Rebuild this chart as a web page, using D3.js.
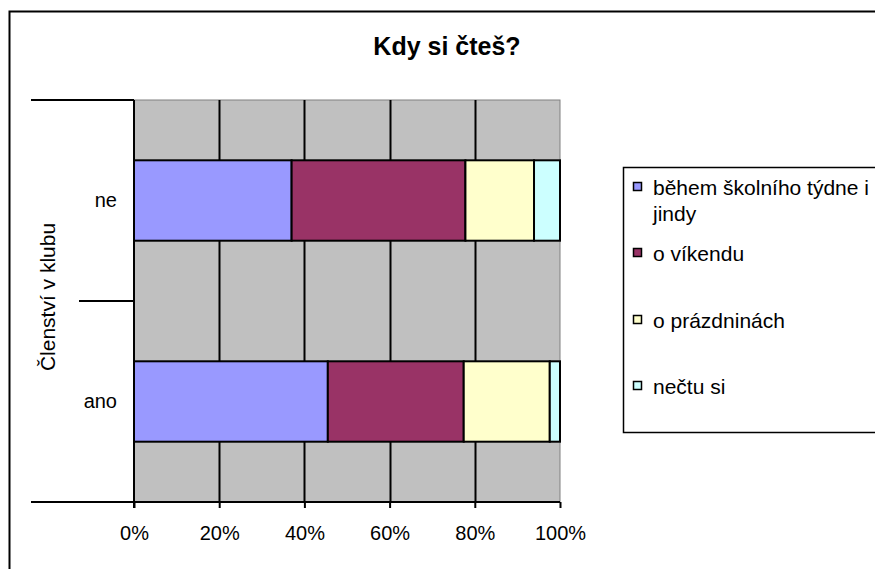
<!DOCTYPE html>
<html>
<head>
<meta charset="utf-8">
<script src="https://cdn.jsdelivr.net/npm/d3@7"></script>
<style>
  body { margin: 0; background: #fff; }
  svg text { font-family: "Liberation Sans", Arial, sans-serif; fill: #000; }
</style>
</head>
<body>
<div id="chart"></div>
<script>
// data (percent of each row)
const categories = ['ne', 'ano'];
const seriesNames = ['během školního týdne i jindy', 'o víkendu', 'o prázdninách', 'nečtu si'];
const seriesColors = ['#9999FF', '#993366', '#FFFFCC', '#CCFFFF'];
const valuesNe = [37.0, 40.8, 16.1, 6.1];
const valuesAno = [45.5, 31.9, 20.2, 2.4];
const xTicks = [0, 20, 40, 60, 80, 100];
const chartTitle = 'Kdy si čteš?';
const yTitle = 'Členství v klubu';

const width = 875, height = 569;
const plot = { left: 134, right: 560, top: 100, bottom: 502 };

const svg = d3.select('#chart').append('svg')
  .attr('width', width)
  .attr('height', height);

// outer chart frame (runs off the bottom/right edge)
svg.append('rect')
  .attr('x', 9.5).attr('y', 11.5)
  .attr('width', 900).attr('height', 600)
  .attr('fill', '#fff')
  .attr('stroke', '#000')
  .attr('stroke-width', 2);

const xScale = d3.scaleLinear().domain([0, 100]).range([plot.left, plot.right]);
const yScale = d3.scaleBand().domain(categories)
  .range([plot.top, plot.bottom])
  .paddingInner(0.6).paddingOuter(0.3);

// plot background
svg.append('rect')
  .attr('x', plot.left).attr('y', plot.top)
  .attr('width', plot.right - plot.left).attr('height', plot.bottom - plot.top)
  .attr('fill', '#C0C0C0')
  .attr('stroke', '#808080')
  .attr('stroke-width', 1);

// vertical gridlines
svg.append('g')
  .selectAll('line')
  .data(xTicks.slice(1, -1))
  .enter()
  .append('line')
  .attr('x1', d => Math.round(xScale(d)) + 0.5)
  .attr('x2', d => Math.round(xScale(d)) + 0.5)
  .attr('y1', plot.top)
  .attr('y2', plot.bottom)
  .attr('stroke', '#000')
  .attr('stroke-width', 2);

// stacked bars
const rows = categories.map((c, i) => {
  const vals = i === 0 ? valuesNe : valuesAno;
  const row = { cat: c };
  seriesNames.forEach((s, j) => { row[s] = vals[j]; });
  return row;
});
const stacked = d3.stack().keys(seriesNames)(rows);

svg.append('g')
  .selectAll('g')
  .data(stacked)
  .enter()
  .append('g')
  .attr('fill', (d, i) => seriesColors[i])
  .selectAll('rect')
  .data(d => d)
  .enter()
  .append('rect')
  .attr('x', d => xScale(d[0]))
  .attr('y', d => yScale(d.data.cat))
  .attr('width', d => xScale(d[1]) - xScale(d[0]))
  .attr('height', yScale.bandwidth())
  .attr('stroke', '#000')
  .attr('stroke-width', 2);

// value axis
const xAxis = d3.axisBottom(xScale)
  .tickValues(xTicks)
  .tickSize(6)
  .tickPadding(18)
  .tickFormat(d => d + '%');

const gx = svg.append('g')
  .attr('transform', 'translate(0,' + plot.bottom + ')')
  .call(xAxis);
gx.select('.domain').remove();
gx.selectAll('.tick line').attr('stroke', '#000').attr('stroke-width', 2);
gx.selectAll('.tick text').attr('font-size', '20px').attr('font-family', '"Liberation Sans", Arial, sans-serif');

// category axis: line, boundary ticks reaching left, labels
svg.append('line')
  .attr('x1', 31).attr('x2', plot.right)
  .attr('y1', plot.bottom).attr('y2', plot.bottom)
  .attr('stroke', '#000').attr('stroke-width', 2);

svg.append('line')
  .attr('x1', plot.left).attr('x2', plot.left)
  .attr('y1', plot.top).attr('y2', plot.bottom + 6)
  .attr('stroke', '#000').attr('stroke-width', 2);

svg.append('line')
  .attr('x1', 31).attr('x2', plot.left)
  .attr('y1', plot.top).attr('y2', plot.top)
  .attr('stroke', '#000').attr('stroke-width', 2);

// boundary between the two categories is shorter (stops before the axis title)
svg.append('line')
  .attr('x1', 79).attr('x2', plot.left)
  .attr('y1', (plot.top + plot.bottom) / 2).attr('y2', (plot.top + plot.bottom) / 2)
  .attr('stroke', '#000').attr('stroke-width', 2);

const yAxis = d3.axisLeft(yScale).tickSize(0).tickPadding(17);
const gy = svg.append('g')
  .attr('transform', 'translate(' + plot.left + ',0)')
  .call(yAxis);
gy.select('.domain').remove();
gy.selectAll('.tick text').attr('font-size', '20px').attr('font-family', '"Liberation Sans", Arial, sans-serif');

// axis title
svg.append('text')
  .attr('transform', 'translate(55,' + 297 + ') rotate(-90)')
  .attr('text-anchor', 'middle')
  .attr('font-size', '21px')
  .text(yTitle);

// chart title
svg.append('text')
  .attr('x', 447)
  .attr('y', 55)
  .attr('text-anchor', 'middle')
  .attr('font-size', '25px')
  .attr('font-weight', 'bold')
  .text(chartTitle);

// legend
const legend = svg.append('g');
legend.append('rect')
  .attr('x', 623.5).attr('y', 167.5)
  .attr('width', 300).attr('height', 265)
  .attr('fill', '#fff')
  .attr('stroke', '#000')
  .attr('stroke-width', 1.5);

const legendY = [187, 253, 320, 386];
const items = legend.selectAll('g.item')
  .data(seriesNames)
  .enter()
  .append('g')
  .attr('class', 'item')
  .attr('transform', (d, i) => 'translate(0,' + legendY[i] + ')');

items.append('rect')
  .attr('x', 633.5).attr('y', -4.5)
  .attr('width', 8).attr('height', 8)
  .attr('fill', (d, i) => seriesColors[i])
  .attr('stroke', '#000')
  .attr('stroke-width', 1.5);

items.append('text')
  .attr('x', 653)
  .attr('y', 8)
  .attr('font-size', '21px')
  .each(function (d) {
    const t = d3.select(this);
    if (d === seriesNames[0]) {
      t.append('tspan').attr('x', 653).text('během školního týdne i');
      t.append('tspan').attr('x', 653).attr('dy', 26).text('jindy');
    } else {
      t.text(d);
    }
  });
</script>
</body>
</html>
